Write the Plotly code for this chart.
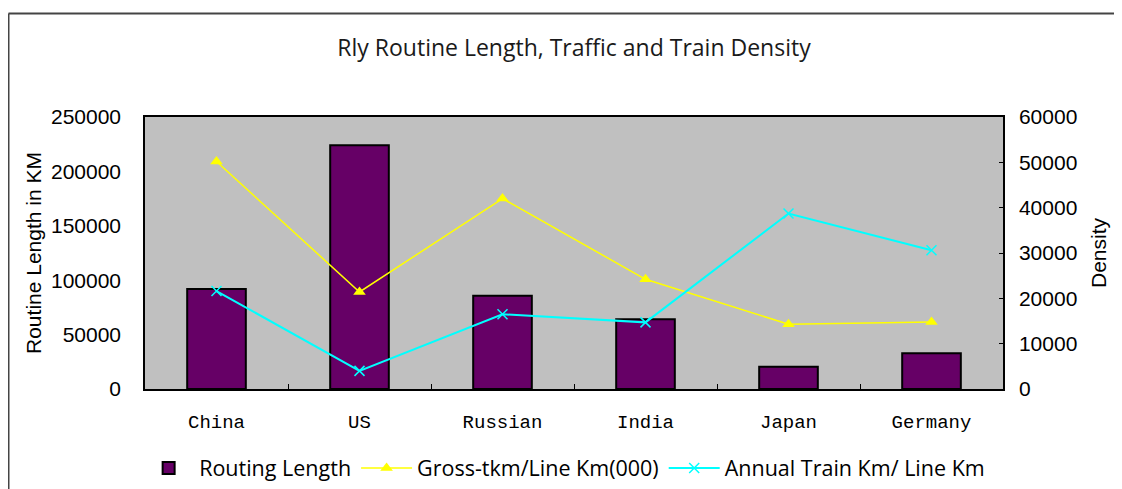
import plotly.graph_objects as go

countries = ["China", "US", "Russian", "India", "Japan", "Germany"]
routing_length = [91800, 224000, 85700, 64000, 20500, 32800]
gross_tkm = [50200, 21400, 42000, 24200, 14300, 14800]
annual_train_km = [21600, 4000, 16500, 14700, 38700, 30600]

left_ticks = [0, 50000, 100000, 150000, 200000, 250000]
right_ticks = [0, 10000, 20000, 30000, 40000, 50000, 60000]

# page has an 8px body margin; layout coordinates = page coordinates - 8
OFF = 8
PL, PR, PT, PB = 145 - OFF, 1003 - OFF, 117 - OFF, 389 - OFF
W, H = 1114, 481
PW, PH = PR - PL, PB - PT


def px(xp):
    return (xp - OFF - PL) / PW


def py(yp):
    return (PB - (yp - OFF)) / PH


fig = go.Figure()
fig.add_trace(go.Bar(
    x=countries, y=routing_length, name="Routing Length",
    marker=dict(color="#660066", line=dict(color="black", width=2)),
    yaxis="y",
))
fig.add_trace(go.Scatter(
    x=countries, y=gross_tkm, name="Gross-tkm/Line Km(000)",
    mode="lines+markers",
    line=dict(color="#FFFF00", width=1.5),
    marker=dict(symbol="triangle-up", size=11, color="#FFFF00"),
    yaxis="y2",
))
fig.add_trace(go.Scatter(
    x=countries, y=annual_train_km, name="Annual Train Km/ Line Km",
    mode="lines+markers",
    line=dict(color="#00FFFF", width=2),
    marker=dict(symbol="x-thin-open", size=10, color="#00FFFF",
                line=dict(color="#00FFFF", width=1.5)),
    yaxis="y2",
))

fig.update_layout(
    width=W, height=H,
    margin=dict(l=PL, r=W - PR, t=PT, b=H - PB, autoexpand=False),
    paper_bgcolor="white",
    plot_bgcolor="#C0C0C0",
    bargap=0.59,
    showlegend=True,
    title=dict(text="Rly Routine Length, Traffic and Train Density",
               x=0.5, xref="paper", xanchor="center",
               y=1 - (48 - OFF) / H, yref="container", yanchor="middle",
               font=dict(family="Open Sans", size=23, color="#1a1a1a")),
    legend=dict(orientation="h", x=-0.008, xanchor="left", y=py(468), yanchor="middle",
                font=dict(family="Open Sans", size=21.5, color="black"),
                bgcolor="rgba(0,0,0,0)", itemwidth=51, tracegroupgap=0),
    xaxis=dict(
        type="category", showline=True, linecolor="black", linewidth=1.5, mirror=True,
        ticks="inside", ticklen=5, tickcolor="black", tickson="boundaries",
        tickfont=dict(family="Liberation Mono", size=19, color="black"),
        ticklabelstandoff=14, showgrid=False, zeroline=False, automargin=False,
    ),
    yaxis=dict(
        range=[0, 250000], tickvals=left_ticks, ticktext=[str(v) for v in left_ticks],
        showline=True, linecolor="black", linewidth=1.5,
        ticks="", showgrid=False, zeroline=False, automargin=False,
        tickfont=dict(family="Liberation Sans", size=21, color="black"),
        ticklabelstandoff=18,
        title=dict(text="Routine Length in KM", standoff=4,
                   font=dict(family="Liberation Sans", size=21, color="black")),
    ),
    yaxis2=dict(
        range=[0, 60000], tickvals=right_ticks, ticktext=[str(v) for v in right_ticks],
        overlaying="y", side="right",
        showline=True, linecolor="black", linewidth=1.5,
        ticks="inside", ticklen=4, tickcolor="black", showgrid=False, zeroline=False,
        automargin=False,
        tickfont=dict(family="Liberation Sans", size=21, color="black"),
        ticklabelstandoff=10,
        title=dict(text="Density", standoff=15,
                   font=dict(family="Liberation Sans", size=21, color="black")),
    ),
    shapes=[
        dict(type="line", xref="paper", yref="paper",
             x0=px(8.5), x1=px(1140), y0=py(13.5), y1=py(13.5),
             line=dict(color="#444444", width=2)),
        dict(type="line", xref="paper", yref="paper",
             x0=px(8.5), x1=px(8.5), y0=py(13.5), y1=py(520),
             line=dict(color="#444444", width=2)),
    ],
)

fig.write_html("out.html")
